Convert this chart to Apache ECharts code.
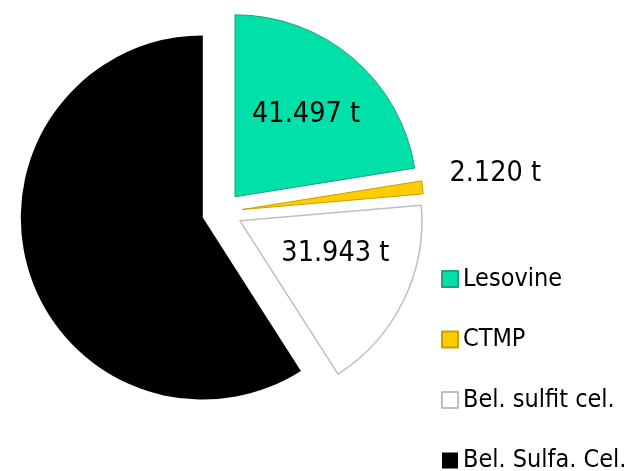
<!DOCTYPE html>
<html>
<head>
<meta charset="utf-8">
<script src="https://cdn.jsdelivr.net/npm/echarts@6/dist/echarts.min.js"></script>
<style>
html,body{margin:0;padding:0;background:#fff;}
#chart{width:635px;height:471px;}
</style>
</head>
<body>
<div id="chart"></div>
<script>
// Data (tonnes)
const categories = ['Lesovine', 'CTMP', 'Bel. sulfit cel.', 'Bel. Sulfa. Cel.'];
const values = [41497, 2120, 31943, 109000];
const showLabel = [true, true, true, false];
const fillColors = ['#00E0A8', '#FFCC00', '#FFFFFF', '#000000'];
const borderColors = ['#1FA27E', '#C8A000', '#BFBFBF', '#000000'];
const borderWidths = [1, 1, 1.5, 0];

function fmt(v) {
  return String(v).replace(/\B(?=(\d{3})+(?!\d))/g, '.') + ' t';
}

const FONT = '"DejaVu Sans Condensed", "DejaVu Sans", sans-serif';

const labelShift = [
  { dx: 10, dy: -11 },
  { dx: -3, dy: -12 },
  { dx: 11, dy: -9 },
  { dx: 0, dy: 0 }
];

const chart = echarts.init(document.getElementById('chart'), null, { renderer: 'canvas' });

const data = categories.map((name, i) => ({
  name: name,
  value: values[i],
  selected: true,
  itemStyle: {
    color: fillColors[i],
    borderColor: borderColors[i],
    borderWidth: borderWidths[i]
  },
  label: {
    show: showLabel[i],
    position: i === 1 ? 'outside' : 'inside'
  },
  labelLine: { show: false, length: 15, length2: 10 }
}));

chart.setOption({
  animation: false,
  backgroundColor: '#ffffff',
  legend: {
    orient: 'vertical',
    left: 441,
    top: 266,
    height: 240,
    padding: 0,
    itemWidth: 16,
    itemHeight: 16,
    itemGap: 34.5,
    icon: 'rect',
    textStyle: {
      fontFamily: FONT,
      fontSize: 25,
      color: '#000',
      lineHeight: 26
    },
    selectedMode: false,
    data: categories
  },
  series: [{
    type: 'pie',
    center: [222, 212],
    radius: [0, 182],
    startAngle: 90,
    clockwise: true,
    selectedMode: 'multiple',
    selectedOffset: 20,
    avoidLabelOverlap: false,
    emphasis: { disabled: true },
    label: {
      fontFamily: FONT,
      fontSize: 28.5,
      color: '#000',
      formatter: p => fmt(p.value)
    },
    labelLayout: function (params) {
      const s = labelShift[params.dataIndex];
      return { dx: s.dx, dy: s.dy };
    },
    data: data
  }]
});
</script>
</body>
</html>
